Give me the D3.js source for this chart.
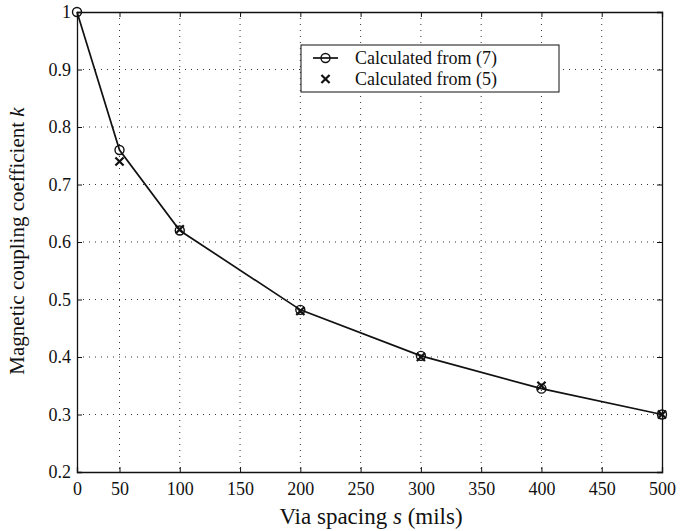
<!DOCTYPE html>
<html>
<head>
<meta charset="utf-8">
<script src="https://cdn.jsdelivr.net/npm/d3@7"></script>
<style>
  body { margin: 0; background: #fff; }
  svg text { font-family: "Liberation Serif", "DejaVu Serif", serif; fill: #111; }
</style>
</head>
<body>
<div id="chart"></div>
<script>
// data
const spacing = [0, 50, 100, 200, 300, 400, 500];
const kFrom7 = [1.0, 0.76, 0.62, 0.482, 0.402, 0.345, 0.30];
const spacing5 = [50, 100, 200, 300, 400, 500];
const kFrom5 = [0.74, 0.622, 0.48, 0.40, 0.35, 0.30];
const xTicks = [0, 50, 100, 150, 200, 250, 300, 350, 400, 450, 500];
const yTicks = [0.2, 0.3, 0.4, 0.5, 0.6, 0.7, 0.8, 0.9, 1];
const legendLabels = ['Calculated from (7)', 'Calculated from (5)'];

const width = 690, height = 531;
const plotL = 77, plotR = 662, plotT = 12, plotB = 472;
const serif = '"Liberation Serif", "DejaVu Serif", serif';

const svg = d3.select('#chart')
  .append('svg')
  .attr('width', width)
  .attr('height', height)
  .attr('font-family', serif);

// the scanned figure has a short first interval, so the scale is piecewise
const x = d3.scaleLinear().domain([0, 50, 500]).range([plotL, 119.5, plotR]);
const y = d3.scaleLinear().domain([0.2, 1]).range([plotB, plotT]);

// grid
const grid = svg.append('g').attr('stroke', '#333').attr('stroke-width', 1)
  .attr('stroke-dasharray', '1,5');
grid.selectAll('line.v')
  .data(xTicks.slice(1, -1))
  .enter().append('line')
  .attr('x1', d => x(d)).attr('x2', d => x(d))
  .attr('y1', plotT).attr('y2', plotB);
grid.selectAll('line.h')
  .data(yTicks.slice(1, -1))
  .enter().append('line')
  .attr('y1', d => y(d)).attr('y2', d => y(d))
  .attr('x1', plotL).attr('x2', plotR);

// axes (ticks inside, like matlab)
const xAxis = svg.append('g')
  .attr('transform', `translate(0,${plotB})`)
  .call(d3.axisBottom(x).tickValues(xTicks).tickSize(-5).tickPadding(9).tickFormat(d3.format('d')));
const xTop = svg.append('g')
  .attr('transform', `translate(0,${plotT})`)
  .call(d3.axisTop(x).tickValues(xTicks).tickSize(-5).tickFormat(''));
const yAxis = svg.append('g')
  .attr('transform', `translate(${plotL},0)`)
  .call(d3.axisLeft(y).tickValues(yTicks).tickSize(-5).tickPadding(6).tickFormat(d => d === 1 ? '1' : d3.format('.1f')(d)));
const yRight = svg.append('g')
  .attr('transform', `translate(${plotR},0)`)
  .call(d3.axisRight(y).tickValues(yTicks).tickSize(-5).tickFormat(''));

[xAxis, xTop, yAxis, yRight].forEach(g => {
  g.attr('font-family', serif).attr('font-size', 18);
  g.select('.domain').attr('stroke', '#111').attr('stroke-width', 1.3);
  g.selectAll('.tick line').attr('stroke', '#111');
  g.selectAll('text').attr('fill', '#111');
});
xAxis.selectAll('text').attr('dy', '0.75em');

// line for eq (7)
const line = d3.line()
  .x((d, i) => x(spacing[i]))
  .y(d => y(d));
svg.append('path')
  .datum(kFrom7)
  .attr('fill', 'none')
  .attr('stroke', '#111')
  .attr('stroke-width', 1.7)
  .attr('d', line);

svg.selectAll('circle.m7')
  .data(kFrom7)
  .enter().append('circle')
  .attr('class', 'm7')
  .attr('cx', (d, i) => x(spacing[i]))
  .attr('cy', d => y(d))
  .attr('r', 4.5)
  .attr('fill', 'none')
  .attr('stroke', '#111')
  .attr('stroke-width', 1.4);

const cross = d3.symbol().type(d3.symbolX).size(45);
svg.selectAll('path.m5')
  .data(kFrom5)
  .enter().append('path')
  .attr('class', 'm5')
  .attr('d', cross)
  .attr('transform', (d, i) => `translate(${x(spacing5[i])},${y(d)})`)
  .attr('fill', '#111')
  .attr('stroke', '#111')
  .attr('stroke-width', 2.2);

// legend
const lg = svg.append('g');
lg.append('rect')
  .attr('x', 301).attr('y', 45)
  .attr('width', 258).attr('height', 47)
  .attr('fill', '#fff')
  .attr('stroke', '#111')
  .attr('stroke-width', 1);
lg.append('line')
  .attr('x1', 313).attr('x2', 338)
  .attr('y1', 58).attr('y2', 58)
  .attr('stroke', '#111').attr('stroke-width', 1.7);
lg.append('circle')
  .attr('cx', 325.5).attr('cy', 58).attr('r', 4.5)
  .attr('fill', 'none').attr('stroke', '#111').attr('stroke-width', 1.4);
lg.append('path')
  .attr('d', cross)
  .attr('transform', 'translate(325.5,79)')
  .attr('fill', '#111').attr('stroke', '#111').attr('stroke-width', 2.2);
lg.selectAll('text')
  .data(legendLabels)
  .enter().append('text')
  .attr('x', 355)
  .attr('y', (d, i) => 64 + i * 21)
  .attr('font-size', 18)
  .text(d => d);

// axis labels
const xl = svg.append('text')
  .attr('x', 371).attr('y', 524)
  .attr('text-anchor', 'middle')
  .attr('font-size', 23);
xl.append('tspan').text('Via spacing ');
xl.append('tspan').attr('font-style', 'italic').text('s');
xl.append('tspan').text(' (mils)');

const yl = svg.append('text')
  .attr('transform', 'translate(24,241) rotate(-90)')
  .attr('text-anchor', 'middle')
  .attr('font-size', 21);
yl.append('tspan').text('Magnetic coupling coefficient ');
yl.append('tspan').attr('font-style', 'italic').text('k');
</script>
</body>
</html>
